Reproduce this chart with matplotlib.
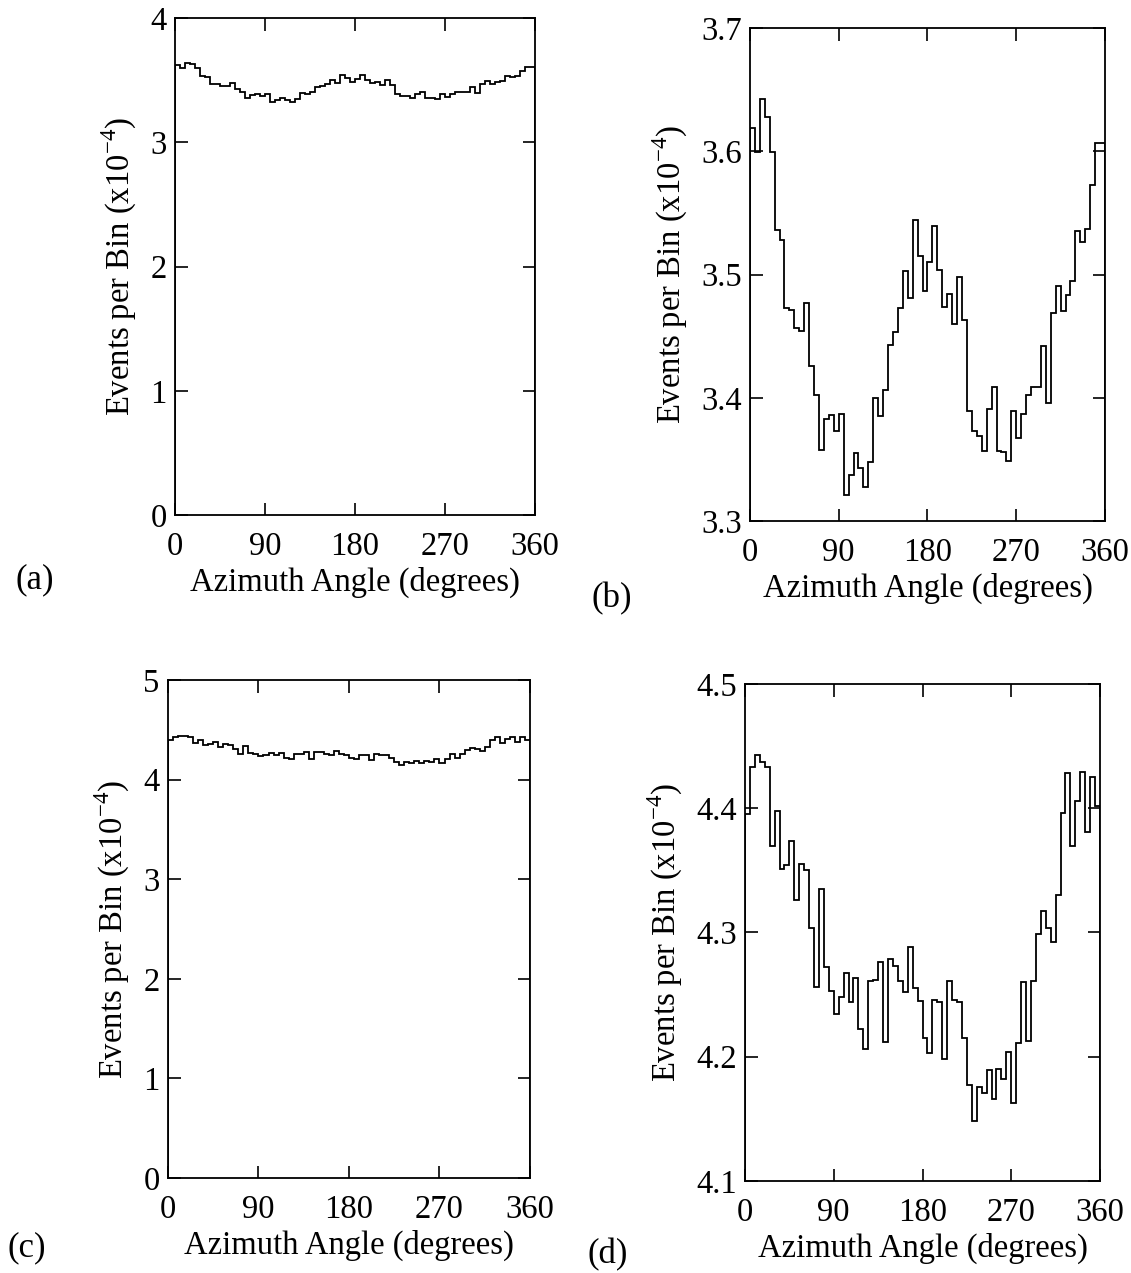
import numpy as np
import matplotlib
matplotlib.use("Agg")
import matplotlib.pyplot as plt

# azimuth bins: 72 bins of 5 degrees
edges = np.arange(0, 361, 5)

# events per bin (x1e-4), first data set (panels a and b)
counts_ab = [3.619, 3.599, 3.642, 3.628, 3.599, 3.536, 3.528, 3.473, 3.471, 3.457,
             3.454, 3.477, 3.426, 3.402, 3.358, 3.383, 3.386, 3.373, 3.387, 3.321,
             3.337, 3.355, 3.343, 3.328, 3.348, 3.400, 3.385, 3.406, 3.443, 3.453,
             3.473, 3.503, 3.481, 3.544, 3.515, 3.487, 3.510, 3.539, 3.504, 3.474,
             3.484, 3.460, 3.498, 3.463, 3.389, 3.373, 3.369, 3.357, 3.391, 3.409,
             3.357, 3.356, 3.349, 3.389, 3.367, 3.387, 3.402, 3.409, 3.409, 3.442,
             3.396, 3.469, 3.491, 3.470, 3.483, 3.495, 3.535, 3.526, 3.537, 3.573,
             3.607, 3.607]

# second data set (panels c and d)
counts_cd = [4.395, 4.433, 4.443, 4.437, 4.433, 4.370, 4.398, 4.351, 4.354, 4.374,
             4.326, 4.355, 4.350, 4.304, 4.256, 4.335, 4.272, 4.253, 4.234, 4.248,
             4.267, 4.244, 4.263, 4.222, 4.206, 4.261, 4.262, 4.276, 4.212, 4.279,
             4.273, 4.261, 4.252, 4.288, 4.255, 4.245, 4.215, 4.203, 4.246, 4.244,
             4.198, 4.261, 4.246, 4.244, 4.215, 4.177, 4.148, 4.176, 4.171, 4.189,
             4.166, 4.190, 4.182, 4.204, 4.163, 4.211, 4.260, 4.213, 4.261, 4.299,
             4.317, 4.304, 4.292, 4.330, 4.396, 4.428, 4.370, 4.406, 4.429, 4.381,
             4.425, 4.402]

xticks = [0, 90, 180, 270, 360]

plt.rcParams['font.family'] = ['Liberation Serif', 'DejaVu Serif']
plt.rcParams['font.size'] = 23.5

fig = plt.figure(figsize=(11.31, 12.73), dpi=100)

panels = [
    # rect, data, ylim, yticks, yticklabels, label, label position
    ([0.1547, 0.5954, 0.3183, 0.3904], counts_ab, (0, 4), [0, 1, 2, 3, 4],
     ['0', '1', '2', '3', '4'], '(a)', (0.031, 0.5444)),
    ([0.6631, 0.5907, 0.3139, 0.3873], counts_ab, (3.3, 3.7), [3.3, 3.4, 3.5, 3.6, 3.7],
     ['3.3', '3.4', '3.5', '3.6', '3.7'], '(b)', (0.541, 0.530)),
    ([0.1485, 0.0746, 0.3201, 0.3912], counts_cd, (0, 5), [0, 1, 2, 3, 4, 5],
     ['0', '1', '2', '3', '4', '5'], '(c)', (0.024, 0.0196)),
    ([0.6587, 0.0723, 0.3139, 0.3904], counts_cd, (4.1, 4.5), [4.1, 4.2, 4.3, 4.4, 4.5],
     ['4.1', '4.2', '4.3', '4.4', '4.5'], '(d)', (0.537, 0.0141)),
]

for rect, data, ylim, yt, ytl, lab, pos in panels:
    ax = fig.add_axes(rect)
    ax.stairs(data, edges, color='black', linewidth=1.3)
    ax.set_xlim(0, 360)
    ax.set_ylim(*ylim)
    ax.set_xticks(xticks)
    ax.set_yticks(yt)
    ax.set_yticklabels(ytl)
    ax.tick_params(direction='in', top=True, right=True, length=9, width=1.2)
    ax.tick_params(axis='x', pad=12)
    ax.tick_params(axis='y', pad=6)
    for s in ax.spines.values():
        s.set_linewidth(1.3)
    ax.set_xlabel('Azimuth Angle (degrees)', labelpad=3)
    ax.set_ylabel('Events per Bin (x10$^{\\mathregular{-4}}$)', labelpad=8)
    fig.text(pos[0], pos[1], lab, fontsize=25, ha='center', va='center')

fig.savefig('out.png', dpi=100)
